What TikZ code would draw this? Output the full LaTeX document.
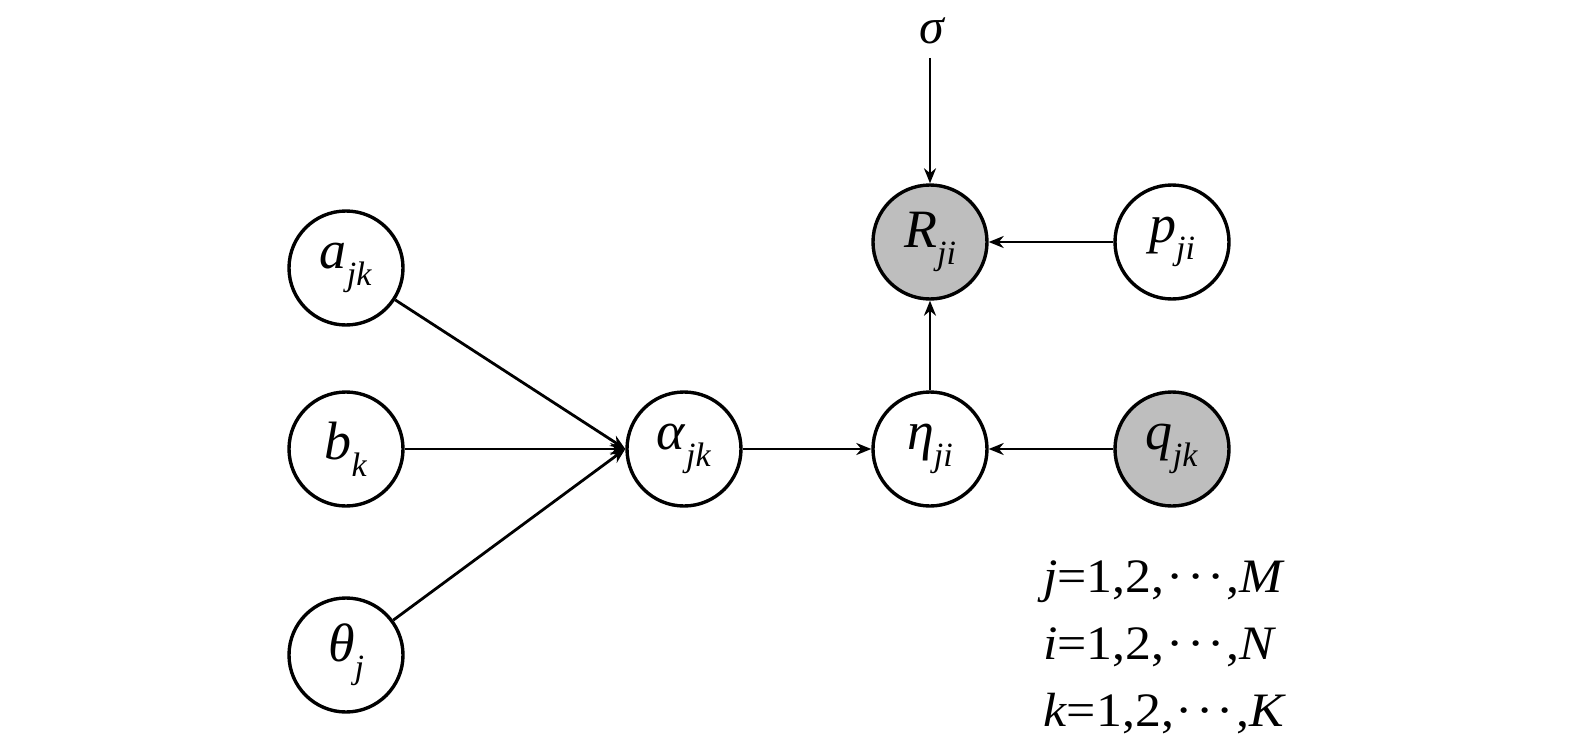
\documentclass[tikz,border=0pt]{standalone}
\usepackage{fontspec}
\setmainfont{Liberation Serif}
\usetikzlibrary{arrows.meta}
\newcommand{\sv}[2]{\textit{#1}\raisebox{-0.32em}{\fontsize{34}{34}\selectfont\textit{#2}}}
\newcommand{\cdts}{\kern.04em·\kern.06em·\kern.06em·\kern.04em}
\definecolor{shade}{RGB}{190,190,190}
\tikzset{
  var/.style={circle,draw=black,line width=3.4pt,fill=white,minimum size=114pt,inner sep=0pt,font=\fontsize{54}{58}\selectfont},
  obs/.style={var,fill=shade},
  edge/.style={line width=2.8pt,-{Stealth[length=15pt,width=12pt]}},
  rng/.style={anchor=base west,inner sep=0pt,font=\fontsize{48}{50}\selectfont}
}
\begin{document}
\begin{tikzpicture}[x=1pt,y=-1pt]
\useasboundingbox (0,0) rectangle (1575,752);
\node[var] (a) at (346,268) {\sv{a}{jk}};
\node[var] (b) at (346,449) {\sv{b}{k}};
\node[var] (th) at (346,655) {\sv{θ}{j}};
\node[var] (al) at (684,449) {\sv{α}{jk}};
\node[var] (eta) at (930,449) {\sv{η}{ji}};
\node[obs] (R) at (930,242) {\sv{R}{ji}};
\node[var] (p) at (1172,242) {\sv{p}{ji}};
\node[obs] (q) at (1172,449) {\sv{q}{jk}};
\node[inner sep=0pt,font=\fontsize{50}{54}\selectfont] (s) at (933,31) {\textit{σ}};
\coordinate (st) at (930,58);
\draw[edge] (a) -- (al.west);
\draw[edge] (b) -- (al.west);
\draw[edge] (th) -- (al.west);
\draw[edge] (al) -- (eta);
\draw[edge] (eta) -- (R);
\draw[edge] (p) -- (R);
\draw[edge] (q) -- (eta);
\draw[edge] (st) -- (R);
\node[rng] (l1) at (1043,592) {\scalebox{1.08}[1]{\textit{j}=1,2,\cdts,\textit{M}}};
\node[rng] (l2) at (1043,659) {\scalebox{1.08}[1]{\textit{i}=1,2,\cdts,\textit{N}}};
\node[rng] (l3) at (1043,726) {\scalebox{1.08}[1]{\textit{k}=1,2,\cdts,\textit{K}}};
\end{tikzpicture}
\end{document}
